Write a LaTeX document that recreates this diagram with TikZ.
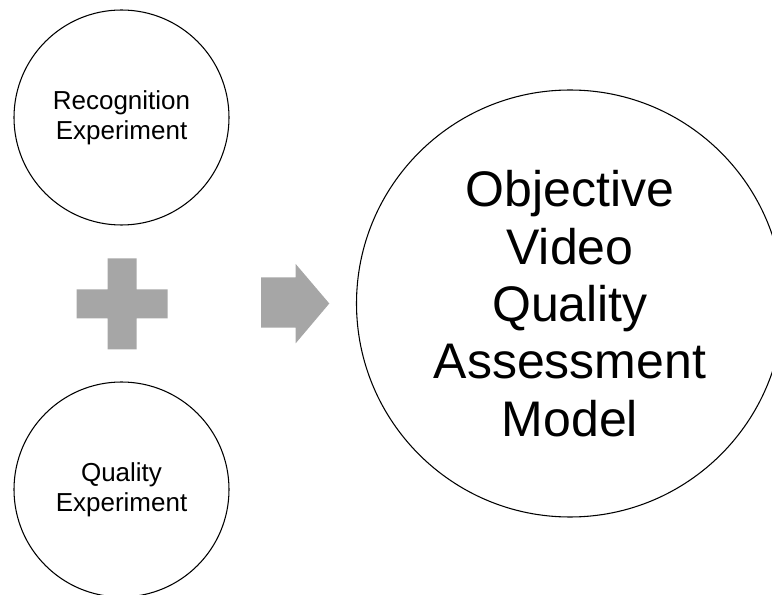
\documentclass[tikz,border=0pt]{standalone}
\usepackage{fontspec}
\setmainfont{Liberation Sans}
\usepackage{xcolor}
\usetikzlibrary{calc}
\definecolor{shapegray}{HTML}{A6A6A6}
\tikzset{
  smallcirc/.style={draw, circle, line width=0.8pt, inner sep=0pt, minimum size=161.25pt, align=center, font=\fontsize{19.5}{22.5}\selectfont},
  bigcirc/.style={draw, circle, line width=0.8pt, inner sep=0pt, minimum size=320.25pt, align=center, font=\fontsize{37.5}{43}\selectfont}
}

\begin{document}
\begin{tikzpicture}[x=0.75pt, y=-0.75pt]
\clip (0,0) rectangle (772,595);
\node[smallcirc] (recog) at (121.5,117.5) {Recognition\\Experiment};
\node[smallcirc] (qual) at (121.5,489.5) {Quality\\Experiment};
\node[bigcirc] (model) at (570,303.5) {Objective\\Video\\Quality\\Assessment\\Model};
\fill[shapegray] (76.7,289.3) rectangle (167.7,318.3)
                 (107.7,258.3) rectangle (136.7,349.3);
\fill[shapegray] (261,277.3) -- (295.7,277.3) -- (295.7,264) -- (329.3,303.5)
                 -- (295.7,343.3) -- (295.7,327.7) -- (261,327.7) -- cycle;
\end{tikzpicture}
\end{document}
